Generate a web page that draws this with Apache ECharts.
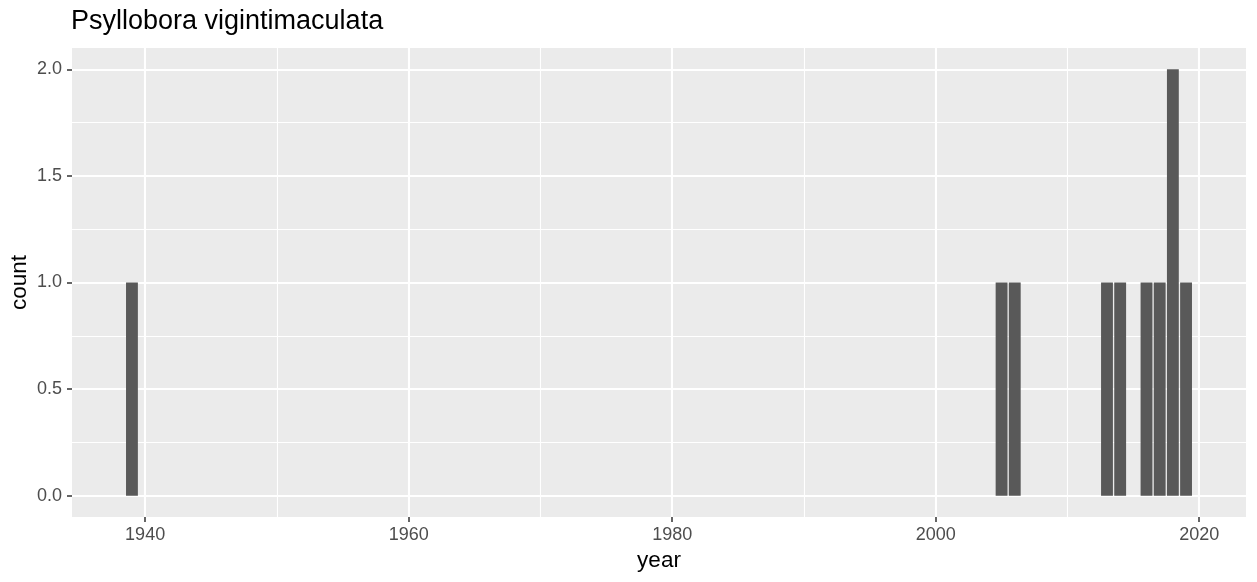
<!DOCTYPE html>
<html>
<head>
<meta charset="utf-8">
<script src="https://cdn.jsdelivr.net/npm/echarts@6/dist/echarts.min.js"></script>
<style>
html,body{margin:0;padding:0;background:#fff;}
#main{width:1257px;height:582px;}
</style>
</head>
<body>
<div id="main"></div>
<script>
// observations per year
var years = [1939, 2005, 2006, 2013, 2014, 2016, 2017, 2018, 2019];
var counts = [1, 1, 1, 1, 1, 1, 1, 2, 1];
var xTicks = [1940, 1960, 1980, 2000, 2020];
var xMinor = [1950, 1970, 1990, 2010];
var yTicks = [0, 0.5, 1, 1.5, 2];
var yMinor = [0.25, 0.75, 1.25, 1.75];

var barData = years.map(function (y, i) { return [y, counts[i]]; });
var font = '"Liberation Sans", Arial, sans-serif';

var chart = echarts.init(document.getElementById('main'));
chart.setOption({
	animation: false,
	title: {
		text: 'Psyllobora vigintimaculata',
		left: 71, top: 8, padding: 0,
		textStyle: {fontFamily: font, fontSize: 27, fontWeight: 'normal', color: '#000'}
	},
	grid: {
		left: 72, right: 11, top: 48, bottom: 65,
		containLabel: false, outerBoundsMode: 'none',
		backgroundColor: '#EBEBEB', show: true, borderWidth: 0
	},
	xAxis: [{
		type: 'value', min: 1934.45, max: 2023.55,
		name: 'year', nameLocation: 'middle', nameGap: 32, nameMoveOverlap: false,
		nameTextStyle: {fontFamily: font, fontSize: 22.5, color: '#000'},
		axisLine: {show: false, onZero: false},
		axisTick: {show: true, length: 5, lineStyle: {color: '#333', width: 1.5}, customValues: xTicks},
		axisLabel: {
			customValues: xTicks, margin: 9, fontFamily: font, fontSize: 18, color: '#4D4D4D',
			formatter: function (v) { return String(v); }
		},
		splitLine: {show: true, lineStyle: {color: '#fff', width: 2.1}}
	}, {
		type: 'value', min: 1934.45, max: 2023.55, position: 'bottom',
		axisLine: {show: false, onZero: false},
		axisTick: {show: false, customValues: xMinor},
		axisLabel: {show: false, customValues: xMinor},
		splitLine: {show: true, lineStyle: {color: '#fff', width: 1.1}}
	}],
	yAxis: [{
		type: 'value', min: -0.1, max: 2.1,
		name: 'count', nameLocation: 'middle', nameGap: 41, nameRotate: 90, nameMoveOverlap: false,
		nameTextStyle: {fontFamily: font, fontSize: 22.5, color: '#000'},
		axisLine: {show: false, onZero: false},
		axisTick: {show: true, length: 5, lineStyle: {color: '#333', width: 1.5}, customValues: yTicks},
		axisLabel: {
			customValues: yTicks, margin: 10, fontFamily: font, fontSize: 18, color: '#4D4D4D',
			formatter: function (v) { return v.toFixed(1); }
		},
		splitLine: {show: true, lineStyle: {color: '#fff', width: 2.1}}
	}, {
		type: 'value', min: -0.1, max: 2.1, position: 'left',
		axisLine: {show: false, onZero: false},
		axisTick: {show: false, customValues: yMinor},
		axisLabel: {show: false, customValues: yMinor},
		splitLine: {show: true, lineStyle: {color: '#fff', width: 1.1}}
	}],
	series: [{
		type: 'custom',
		xAxisIndex: 0, yAxisIndex: 0,
		data: barData,
		renderItem: function (params, api) {
			var x = api.value(0), y = api.value(1);
			var p0 = api.coord([x - 0.45, y]);
			var p1 = api.coord([x + 0.45, 0]);
			return {
				type: 'rect',
				shape: {x: p0[0], y: p0[1], width: p1[0] - p0[0], height: p1[1] - p0[1]},
				style: {fill: '#595959'}
			};
		}
	}]
});
</script>
</body>
</html>
